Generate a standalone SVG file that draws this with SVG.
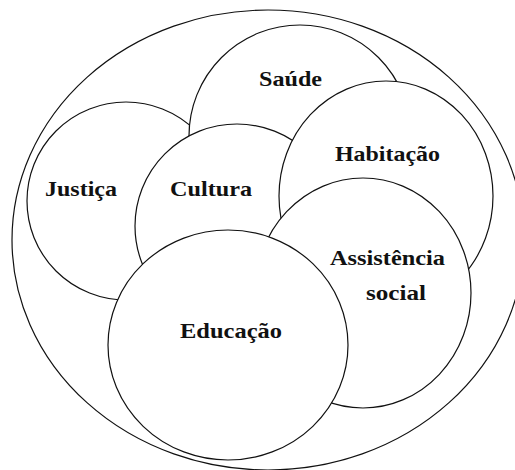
<svg xmlns="http://www.w3.org/2000/svg" width="515" height="470" viewBox="0 0 515 470">
<style>
.s{fill:#fff;stroke:#111;stroke-width:1.2}
.t{font-family:"Liberation Serif","Times New Roman",serif;font-weight:bold;font-size:21px;fill:#111;text-anchor:start}
</style>
<rect width="515" height="470" fill="#fff"/>
<g id="outer"><ellipse class="s" cx="268" cy="240" rx="256" ry="230"/></g>
<g id="connectors"></g>
<g id="justica"><circle class="s" cx="126" cy="201" r="99"/><text class="t" x="45" y="196" textLength="72" lengthAdjust="spacingAndGlyphs">Justiça</text></g>
<g id="saude"><circle class="s" cx="300" cy="136" r="111"/><text class="t" x="259" y="86" textLength="63" lengthAdjust="spacingAndGlyphs">Saúde</text></g>
<g id="cultura"><circle class="s" cx="237" cy="226" r="102"/><text class="t" x="170" y="196" textLength="82" lengthAdjust="spacingAndGlyphs">Cultura</text></g>
<g id="habitacao"><ellipse class="s" cx="386" cy="196" rx="107" ry="115"/><text class="t" x="335" y="161" textLength="105" lengthAdjust="spacingAndGlyphs">Habitação</text></g>
<g id="assistencia"><ellipse class="s" cx="363" cy="293" rx="108" ry="115"/><text class="t" x="330" y="265" textLength="115" lengthAdjust="spacingAndGlyphs">Assistência</text><text class="t" x="366" y="300" textLength="60" lengthAdjust="spacingAndGlyphs">social</text></g>
<g id="educacao"><ellipse class="s" cx="228" cy="345" rx="120" ry="115"/><text class="t" x="180" y="338" textLength="102" lengthAdjust="spacingAndGlyphs">Educação</text></g>
</svg>
